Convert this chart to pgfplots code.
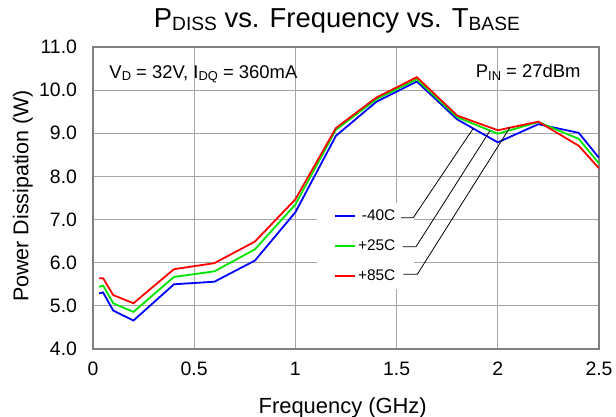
\documentclass[border=0pt]{standalone}
\usepackage{fontspec}
\setmainfont{Liberation Sans}
\usepackage{pgfplots}
\pgfplotsset{compat=1.18}
\definecolor{gridgray}{RGB}{165,165,165}
\definecolor{framegray}{RGB}{128,128,128}
\definecolor{cblue}{RGB}{0,0,255}
\definecolor{cgreen}{RGB}{0,230,0}
\definecolor{cred}{RGB}{255,0,0}
\newcommand{\sub}[1]{\raisebox{-0.13em}{\scalebox{0.7}{#1}}}

\pgfplotstableread{
f     b      g      r
0.03  5.29   5.44   5.64
0.05  5.31   5.47   5.64
0.10  4.89   5.06   5.25
0.20  4.66   4.86   5.06
0.40  5.50   5.67   5.85
0.60  5.56   5.80   5.99
0.80  6.05   6.31   6.49
1.00  7.17   7.35   7.47
1.20  8.94   9.08   9.12
1.40  9.73   9.79   9.83
1.60  10.20  10.25  10.30
1.80  9.32   9.37   9.41
2.00  8.79   8.99   9.07
2.20  9.21   9.26   9.27
2.40  9.01   8.87   8.71
2.50  8.43   8.30   8.19
}\datatable

\begin{document}
\begin{tikzpicture}
\path[use as bounding box] (-93bp,-68bp) rectangle (523bp,349bp);
\begin{axis}[
  at={(0bp,0bp)}, anchor=south west,
  scale only axis, width=506bp, height=302bp,
  xmin=0, xmax=2.5, ymin=4, ymax=11,
  xtick={0,0.5,1,1.5,2,2.5},
  ytick={4,5,6,7,8,9,10,11},
  /pgf/number format/assume math mode=true,
  yticklabel style={/pgf/number format/fixed, /pgf/number format/fixed zerofill, /pgf/number format/precision=1, xshift=-12.5bp},
  grid=major,
  major grid style={gridgray, line width=1.1bp},
  axis line style={framegray, line width=1.8bp},
  major tick length=0pt,
  tick label style={font=\fontsize{19.5}{22}\selectfont, black},
  xticklabel style={yshift=-9.5bp},
  xlabel={Frequency (GHz)},
  ylabel={Power Dissipation (W)},
  xlabel style={font=\fontsize{22}{26}\selectfont, at={(axis description cs:0.4935,-0.2129)}, anchor=base},
  ylabel style={font=\fontsize{21.5}{26}\selectfont, at={(axis description cs:-0.1279,0.507)}, anchor=base},
  title={P\sub{DISS} vs. Frequency vs. T\sub{BASE}},
  title style={font=\fontsize{27.5}{32}\selectfont, at={(axis description cs:0.482,1.0454)}, anchor=base},
  legend cell align=right,
  legend image code/.code={\draw[#1, line width=1.8bp] (0bp,0bp) -- (20bp,0bp);},
  legend style={at={(axis cs:1.107,7.40)}, anchor=north west, draw=none, fill=white,
    inner xsep=17bp, inner ysep=5.5bp, row sep=13.5bp,
    font=\fontsize{15.5}{18}\selectfont},
]
\addplot[cblue, line width=1.8bp] table[x=f, y=b] {\datatable};
\addlegendentry{-40C}
\addplot[cgreen, line width=1.8bp] table[x=f, y=g] {\datatable};
\addlegendentry{+25C}
\addplot[cred, line width=1.8bp] table[x=f, y=r] {\datatable};
\addlegendentry{+85C}
\node[anchor=base west, inner sep=0pt, font=\fontsize{18.5}{22}\selectfont] at (axis cs:0.0805,10.2745) {V\sub{D} = 32V, I\sub{DQ} = 360mA};
\node[anchor=base east, inner sep=0pt, font=\fontsize{18.5}{22}\selectfont] at (axis cs:2.4096,10.288) {P\sub{IN} = 27dBm};
\end{axis}
\draw[black, line width=0.8bp] (308bp,131.3bp) -- (320.3bp,131.3bp) -- (380.3bp,220.7bp);
\draw[black, line width=0.8bp] (309.7bp,102.3bp) -- (323bp,102.3bp) -- (397bp,218.3bp);
\draw[black, line width=0.8bp] (310.3bp,74.7bp) -- (324.3bp,74.7bp) -- (417bp,221.7bp);
\end{tikzpicture}
\end{document}
